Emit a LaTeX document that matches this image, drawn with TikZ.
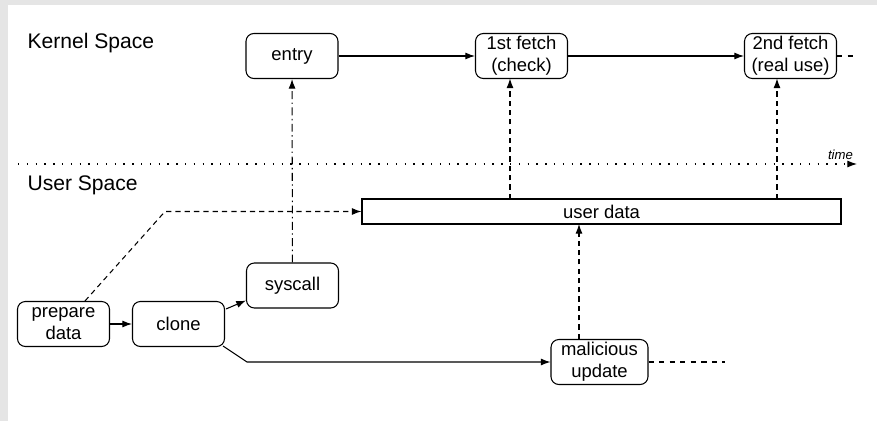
\documentclass[tikz,border=0pt]{standalone}
\usepackage{fontspec}
\setmainfont{Liberation Sans}
\usetikzlibrary{arrows.meta,calc,positioning}
\tikzset{%
	event/.style    = {draw, rectangle, rounded corners=4.5pt, minimum width=1.84cm, minimum height=0.9cm, inner sep=1pt, align=center, font=\fontsize{10.5}{12.5}\selectfont},
	datablock/.style= {draw, rectangle, minimum width=9.58cm, minimum height=0.5cm, inner sep=0pt, font=\fontsize{10.5}{12.5}\selectfont},
	space/.style    = {right, inner sep=0pt, font=\fontsize{12}{14}\selectfont},
	arrow/.style    = {-{Latex[length=5.5pt,width=4pt]}},
	access/.style   = {arrow, dash pattern=on 3pt off 2.3pt},
	invoke/.style   = {arrow, dash pattern=on 4.5pt off 2pt on 0.8pt off 2pt},
}

\begin{document}
\begin{tikzpicture}[line width=0.6pt]
	% page frame
	\fill[black!10] (0,0) rectangle (17.54,8.42);
	\fill[white] (0.16,0) rectangle (17.54,8.32);
	\useasboundingbox (0,0) rectangle (17.54,8.42);

	% the two spaces
	\node[space] (kernel) at (0.54,7.56) {Kernel Space};
	\node[space] (user) at (0.54,4.72) {User Space};
	\draw[arrow, dash pattern=on 0.8pt off 4.2pt] (0.36,5.14) -- (17.14,5.14) node[above left, pos=1, font=\fontsize{7.5}{9}\itshape, inner sep=2pt] (time) {time};

	% kernel side
	\node[event] (entry) at (5.84,7.30) {entry};
	\node[event] (fetchA) at (10.43,7.30) {1st fetch\\(check)};
	\node[event] (fetchB) at (15.81,7.30) {2nd fetch\\(real use)};
	\coordinate (kend) at (17.14,7.30);

	% user side
	\node[datablock] (udata) at (12.03,4.19) {user data};
	\node[event] (prep) at (1.27,1.94) {prepare\\data};
	\node[event] (clone) at (3.57,1.94) {clone};
	\node[event] (syscall) at (5.85,2.71) {syscall};
	\node[event, minimum width=1.94cm] (update) at (11.99,1.18) {malicious\\update};
	\coordinate (uend) at (14.5,1.18);

	% control flow
	\draw[arrow] (entry) -- (fetchA);
	\draw[arrow] (fetchA) -- (fetchB);
	\draw[dashed] (fetchB) -- (kend);
	\draw[arrow] (prep) -- (clone);
	\draw[arrow] ($(clone.north east)+(0.02,-0.16)$) -- ($(syscall.south west)+(0,0.16)$);
	\draw[arrow] ($(clone.south east)+(-0.04,0.02)$) -- (4.94,1.18) -- (update.west);
	\draw[dashed] (update) -- (uend);
	\draw[invoke] (syscall) -- (entry);

	% data accesses
	\draw[access] ($(prep.north)+(0.43,0)$) -- (3.3,4.19) -- (udata.west);
	\draw[access] (10.2,4.44) -- (10.2,6.85);
	\draw[access] (15.54,4.44) -- (15.54,6.85);
	\draw[access] (11.58,1.64) -- (11.58,3.94);
\end{tikzpicture}
\end{document}
